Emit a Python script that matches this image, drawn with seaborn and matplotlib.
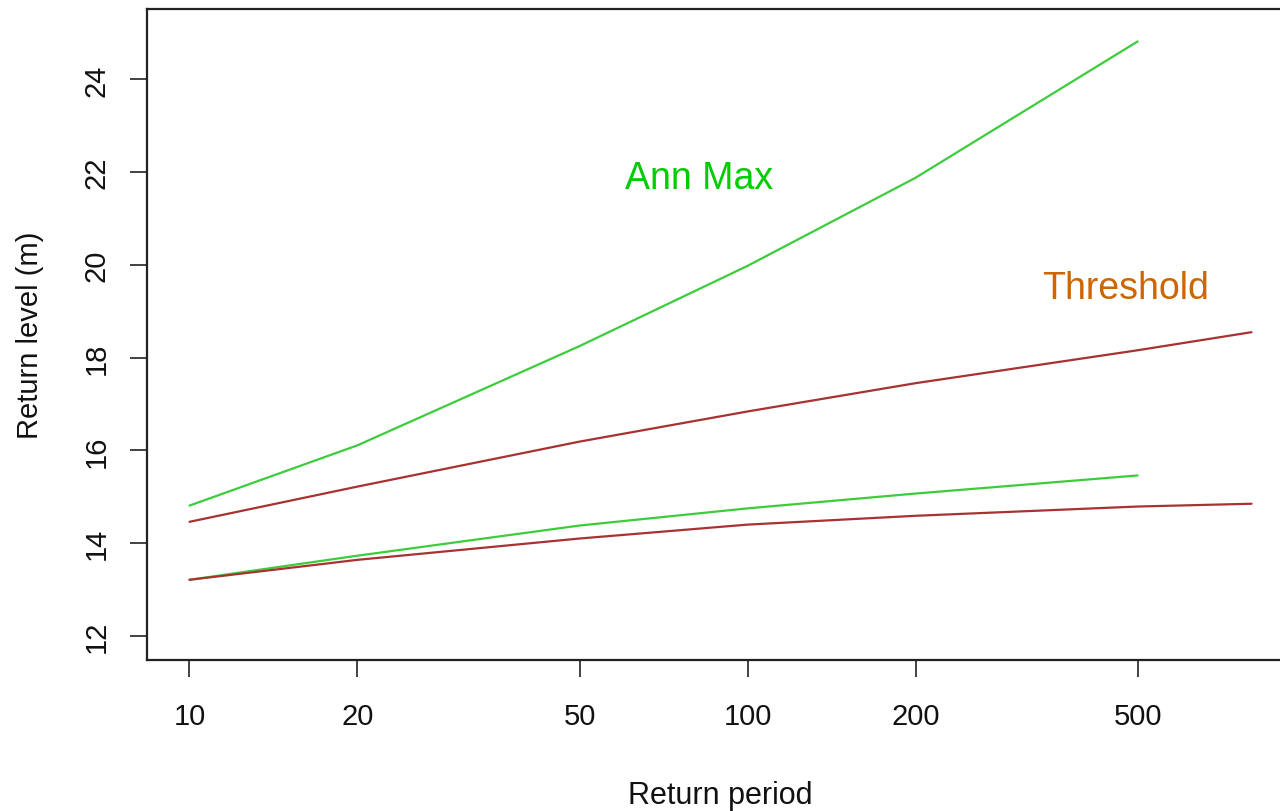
import matplotlib
matplotlib.use("Agg")
import matplotlib.pyplot as plt
import seaborn as sns
import pandas as pd
import numpy as np

# Return periods (years) and return levels (m) for the two methods
annmax_period = [10, 20, 50, 100, 200, 500]
annmax_upper = [14.81, 16.11, 18.25, 19.98, 21.88, 24.82]
annmax_lower = [13.21, 13.73, 14.38, 14.75, 15.07, 15.46]

thresh_period = [10, 20, 50, 100, 200, 500, 800]
thresh_upper = [14.46, 15.22, 16.19, 16.84, 17.45, 18.16, 18.55]
thresh_lower = [13.21, 13.64, 14.10, 14.40, 14.59, 14.79, 14.85]

x_ticks = [10, 20, 50, 100, 200, 500]
y_ticks = [12, 14, 16, 18, 20, 22, 24]

green = "#3ccc3c"
brown = "#a83232"

sns.set_theme(style="ticks")
plt.rcParams["font.family"] = ["Liberation Sans", "DejaVu Sans"]

fig = plt.figure(figsize=(12.8, 8.12), dpi=100)
ax = fig.add_axes([147 / 1280, 1 - 661 / 812, (1294 - 147) / 1280, (661 - 10) / 812])

curves = [
    (annmax_period, annmax_upper, green),
    (annmax_period, annmax_lower, green),
    (thresh_period, thresh_upper, brown),
    (thresh_period, thresh_lower, brown),
]
for px, py, col in curves:
    df = pd.DataFrame({"period": px, "level": py})
    sns.lineplot(data=df, x="period", y="level", ax=ax, color=col,
                 linewidth=1.6, estimator=None, sort=True)

ax.set_xscale("log")
lx0, lx1 = np.log10(10), np.log10(800)
ext = 0.04 * (lx1 - lx0)
ax.set_xlim(10 ** (lx0 - ext), 10 ** (lx1 + ext))
ax.set_ylim(12 - 0.52, 25 + 0.52)

ax.set_xticks(x_ticks)
ax.set_xticklabels([str(t) for t in x_ticks])
ax.xaxis.set_minor_locator(matplotlib.ticker.NullLocator())
ax.set_yticks(y_ticks)
ax.set_yticklabels([str(t) for t in y_ticks], rotation=90, va="center")

ax.tick_params(axis="both", which="major", length=12, width=1.2, color="#222222",
               labelsize=21, labelcolor="#111111")
ax.tick_params(axis="x", pad=18)
ax.tick_params(axis="y", pad=14)

for side in ["left", "right", "top", "bottom"]:
    ax.spines[side].set_visible(True)
    ax.spines[side].set_color("#222222")
    ax.spines[side].set_linewidth(1.6)

ax.set_xlabel("Return period", fontsize=22, color="#111111", labelpad=36)
ax.set_ylabel("Return level (m)", fontsize=21, color="#111111", labelpad=28)

ax.text(82, 21.88, "Ann Max", color="#00cc00", fontsize=27, ha="center", va="center")
ax.text(475, 19.5, "Threshold", color="#cc6600", fontsize=27, ha="center", va="center")

fig.savefig("out.png", dpi=100)
